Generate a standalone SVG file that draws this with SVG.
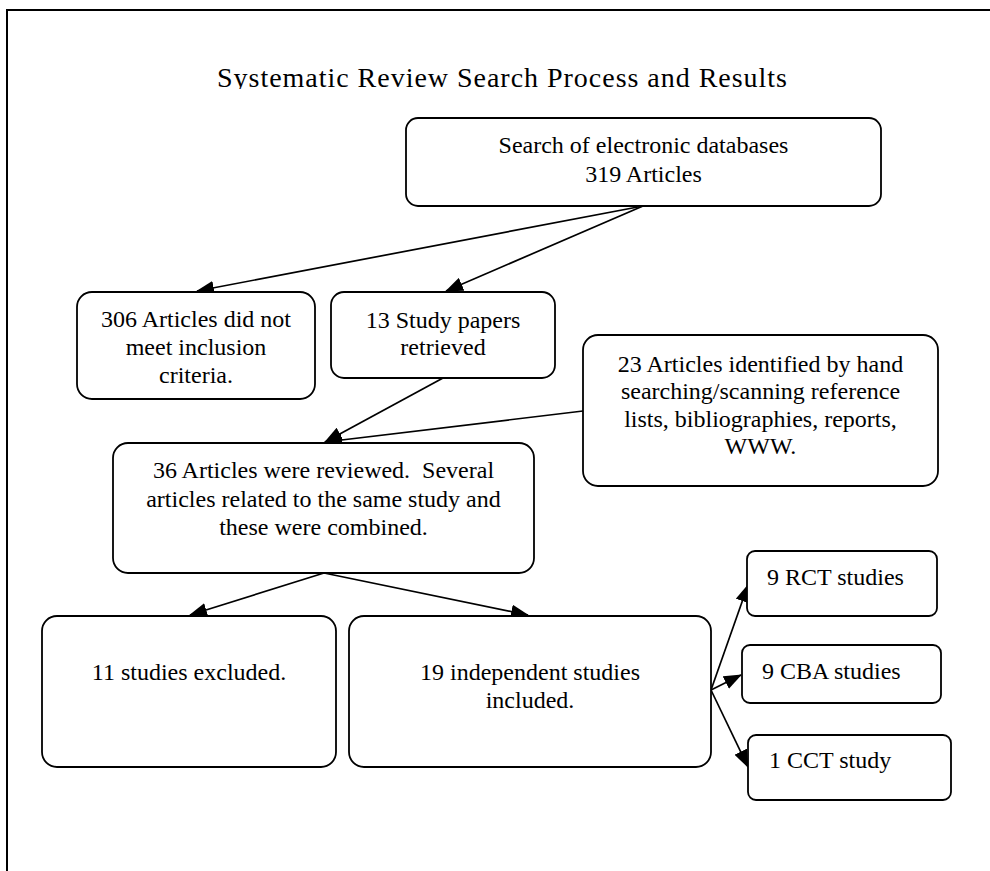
<svg xmlns="http://www.w3.org/2000/svg" width="990" height="871" viewBox="0 0 990 871">
<style>
.box{fill:#fff;stroke:#000;stroke-width:1.8}
text{font-family:"Liberation Serif","Times New Roman",serif;font-size:24px;fill:#000}
.c{text-anchor:middle}
.title{font-size:28px}
.edge{stroke:#000;stroke-width:1.7;fill:none;marker-end:url(#ah)}
</style>
<defs>
<marker id="ah" viewBox="0 0 18 14" refX="17" refY="7" markerWidth="18" markerHeight="14" markerUnits="userSpaceOnUse" orient="auto"><path d="M0,0 L18,7 L0,14 z" fill="#000"/></marker>
<clipPath id="tc"><rect x="0" y="0" width="990" height="89"/></clipPath>
</defs>
<rect x="0" y="0" width="990" height="871" fill="#fff"/>
<path d="M7,871 V10 H990" fill="none" stroke="#000" stroke-width="2"/>
<text class="title" x="217" y="87" textLength="570" lengthAdjust="spacing" clip-path="url(#tc)">Systematic Review Search Process and Results</text>
<g id="connectors">
<line class="edge" x1="643" y1="206" x2="197" y2="291"/>
<line class="edge" x1="643" y1="206" x2="446" y2="291"/>
<line class="edge" x1="443" y1="378" x2="325" y2="442"/>
<line class="edge" x1="583" y1="411" x2="325" y2="442"/>
<line class="edge" x1="324" y1="573" x2="190" y2="615"/>
<line class="edge" x1="324" y1="573" x2="528" y2="615"/>
<line class="edge" x1="711" y1="690" x2="748" y2="585"/>
<line class="edge" x1="711" y1="690" x2="741" y2="675"/>
<line class="edge" x1="711" y1="690" x2="748" y2="767"/>
</g>
<g id="n-search">
<rect class="box" x="406" y="118" width="475" height="88" rx="12"/>
<text class="c" x="643.5" y="153">Search of electronic databases</text>
<text class="c" x="643.5" y="182">319 Articles</text>
</g>
<g id="n-notmeet">
<rect class="box" x="77" y="292" width="238" height="107" rx="15"/>
<text class="c" x="196" y="327">306 Articles did not</text>
<text class="c" x="196" y="355">meet inclusion</text>
<text class="c" x="196" y="383">criteria.</text>
</g>
<g id="n-retrieved">
<rect class="box" x="331" y="292" width="224" height="86" rx="13"/>
<text class="c" x="443" y="328">13 Study papers</text>
<text class="c" x="443" y="355">retrieved</text>
</g>
<g id="n-hand">
<rect class="box" x="583" y="335" width="355" height="151" rx="15"/>
<text class="c" x="760.5" y="372">23 Articles identified by hand</text>
<text class="c" x="760.5" y="399">searching/scanning reference</text>
<text class="c" x="760.5" y="427">lists, bibliographies, reports,</text>
<text class="c" x="760.5" y="454">WWW.</text>
</g>
<g id="n-reviewed">
<rect class="box" x="113" y="443" width="421" height="130" rx="15"/>
<text class="c" x="323.5" y="478" xml:space="preserve">36 Articles were reviewed.  Several</text>
<text class="c" x="323.5" y="507">articles related to the same study and</text>
<text class="c" x="323.5" y="535">these were combined.</text>
</g>
<g id="n-excluded">
<rect class="box" x="42" y="616" width="294" height="151" rx="15"/>
<text class="c" x="189" y="680">11 studies excluded.</text>
</g>
<g id="n-included">
<rect class="box" x="349" y="616" width="362" height="151" rx="15"/>
<text class="c" x="530" y="680">19 independent studies</text>
<text class="c" x="530" y="708">included.</text>
</g>
<g id="n-rct">
<rect class="box" x="747" y="551" width="190" height="65" rx="8"/>
<text x="767" y="585">9 RCT studies</text>
</g>
<g id="n-cba">
<rect class="box" x="742" y="645" width="199" height="58" rx="8"/>
<text x="762" y="679">9 CBA studies</text>
</g>
<g id="n-cct">
<rect class="box" x="748" y="735" width="203" height="65" rx="8"/>
<text x="769" y="768">1 CCT study</text>
</g>
</svg>
